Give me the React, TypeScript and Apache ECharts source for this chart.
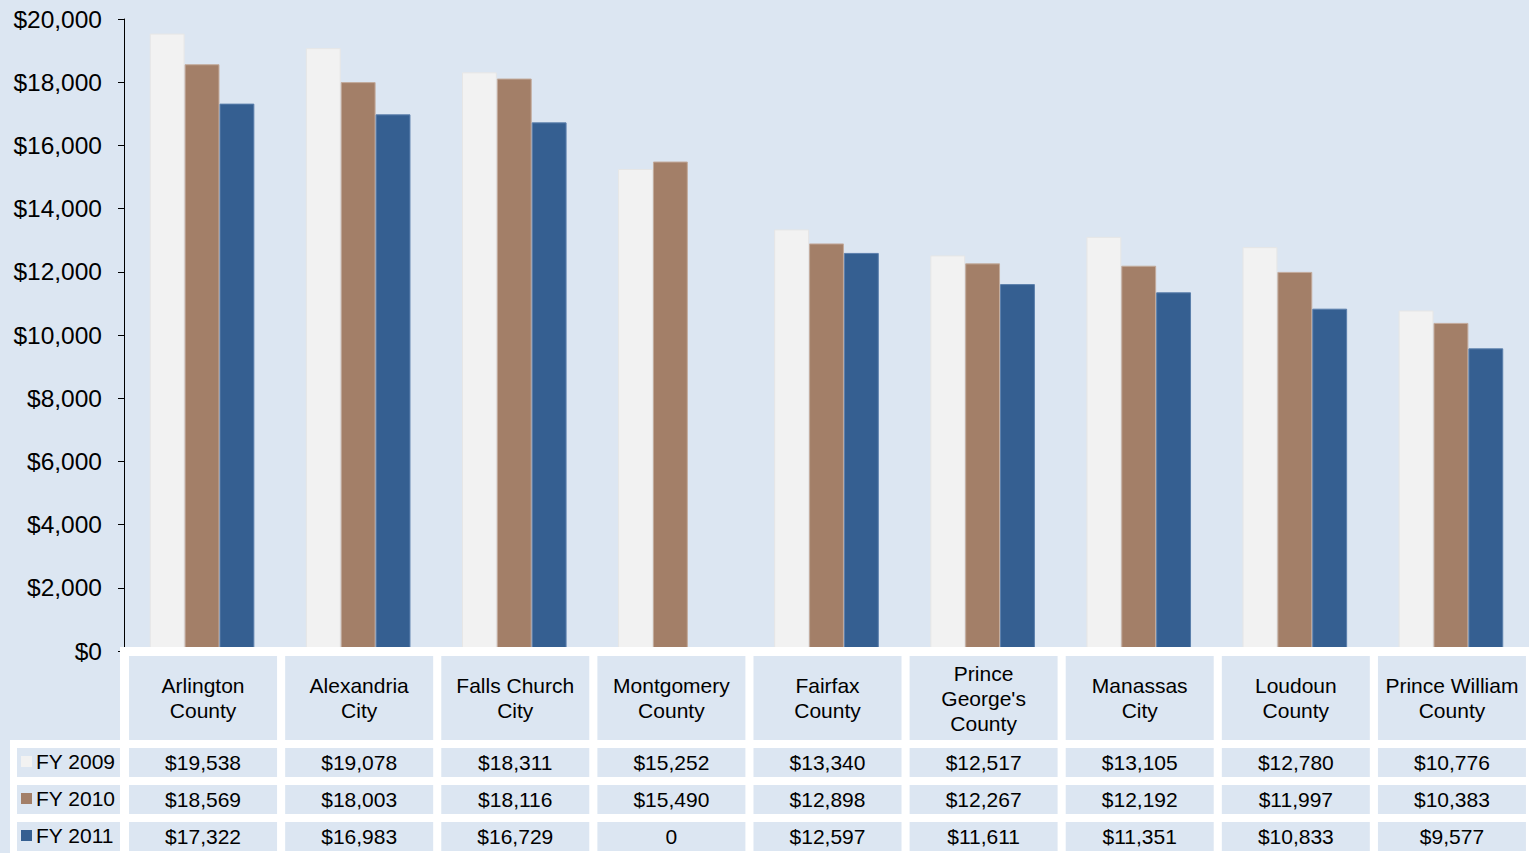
import React, { useEffect, useRef } from "react";
import * as echarts from "echarts";

const categories = [
  "Arlington\nCounty",
  "Alexandria\nCity",
  "Falls Church\nCity",
  "Montgomery\nCounty",
  "Fairfax\nCounty",
  "Prince\nGeorge's\nCounty",
  "Manassas\nCity",
  "Loudoun\nCounty",
  "Prince William\nCounty",
];
const seriesNames = ["FY 2009", "FY 2010", "FY 2011"];
const fy2009 = [19538, 19078, 18311, 15252, 13340, 12517, 13105, 12780, 10776];
const fy2010 = [18569, 18003, 18116, 15490, 12898, 12267, 12192, 11997, 10383];
const fy2011 = [17322, 16983, 16729, 0, 12597, 11611, 11351, 10833, 9577];
const yTicks = [0, 2000, 4000, 6000, 8000, 10000, 12000, 14000, 16000, 18000, 20000];

const colors = ["#f2f2f2", "#a37f68", "#355f91"];
const borders = ["#e6e6e6", "#c3ab9c", "#5b7fac"];
const BG = "#dce6f2";
const FONT = "'Liberation Sans', Arial, sans-serif";

const fmt = (v: number) => (v === 0 ? "0" : "$" + v.toLocaleString("en-US"));

export default function App() {
  const ref = useRef<HTMLDivElement>(null);
  useEffect(() => {
    if (!ref.current) return;
    const chart = echarts.init(ref.current, undefined, { renderer: "svg" });
    const allSeries = [fy2009, fy2010, fy2011];
    chart.setOption({
      animation: false,
      backgroundColor: BG,
      grid: { left: 124, right: 0, top: 19, bottom: 202, containLabel: false },
      xAxis: {
        type: "category",
        data: categories,
        axisLine: { show: false },
        axisTick: { show: false },
        axisLabel: { show: false },
      },
      yAxis: {
        type: "value",
        min: yTicks[0],
        max: yTicks[yTicks.length - 1],
        interval: 2000,
        splitLine: { show: false },
        axisLine: { show: true, lineStyle: { color: "#000", width: 1 } },
        axisTick: { show: true, length: 6, inside: false, lineStyle: { color: "#000" } },
        axisLabel: {
          margin: 22,
          fontSize: 24.5,
          fontFamily: FONT,
          color: "#000",
          formatter: (v: number) => "$" + v.toLocaleString("en-US"),
        },
      },
      series: allSeries.map((d, i) => ({
        type: "bar",
        name: seriesNames[i],
        data: d,
        barGap: "0%",
        barCategoryGap: "33%",
        itemStyle: { color: colors[i], borderColor: borders[i], borderWidth: 1 },
      })),
    });

    const els: any[] = [];
    els.push({ type: "rect", z: 100, shape: { x: 120, y: 647, width: 1409, height: 206 }, style: { fill: "#fff" } });
    els.push({ type: "rect", z: 100, shape: { x: 10, y: 740, width: 120, height: 113 }, style: { fill: "#fff" } });
    const rowY = [748, 785, 822];
    const rowH = 29;
    categories.forEach((c, i) => {
      const cx = (chart.convertToPixel({ xAxisIndex: 0 }, i) as number) + 1;
      els.push({ type: "rect", z: 101, shape: { x: cx - 74, y: 656, width: 148, height: 84 }, style: { fill: BG } });
      els.push({
        type: "text", z: 102, x: cx, y: 698,
        style: { text: c, fontSize: 21, fontFamily: FONT, fill: "#000", align: "center", verticalAlign: "middle", lineHeight: 25 },
      });
      allSeries.forEach((d, r) => {
        els.push({ type: "rect", z: 101, shape: { x: cx - 74, y: rowY[r], width: 148, height: rowH }, style: { fill: BG } });
        els.push({
          type: "text", z: 102, x: cx, y: rowY[r] + rowH / 2,
          style: { text: fmt(d[i]), fontSize: 21, fontFamily: FONT, fill: "#000", align: "center", verticalAlign: "middle" },
        });
      });
    });
    seriesNames.forEach((n, r) => {
      els.push({ type: "rect", z: 101, shape: { x: 17, y: rowY[r], width: 103, height: rowH }, style: { fill: BG } });
      els.push({ type: "rect", z: 102, shape: { x: 21, y: rowY[r] + 8, width: 11, height: 11 }, style: { fill: colors[r] } });
      els.push({
        type: "text", z: 102, x: 36, y: rowY[r] + rowH / 2 - 1,
        style: { text: n, fontSize: 21, fontFamily: FONT, fill: "#000", align: "left", verticalAlign: "middle" },
      });
    });
    chart.setOption({ graphic: { elements: els } });
    return () => chart.dispose();
  }, []);
  return <div ref={ref} style={{ position: "fixed", left: 0, top: 0, width: 1529, height: 853 }} />;
}
